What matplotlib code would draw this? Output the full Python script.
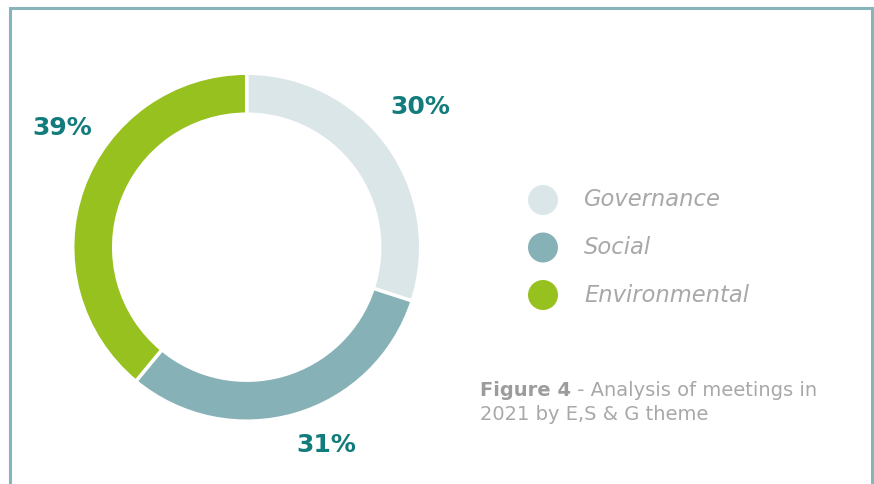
import matplotlib.pyplot as plt
from matplotlib.patches import Rectangle, Circle

themes = ["Governance", "Social", "Environmental"]
shares = [30, 31, 39]
colors = ["#dbe6e9", "#86b1b7", "#96c11f"]
pct_labels = ["30%", "31%", "39%"]

label_color = "#127b7b"
grey = "#a8a8a8"

fig = plt.figure(figsize=(8.74, 4.84), dpi=100)
ax = fig.add_axes([0, 0, 1, 1])

# donut, in pixel units (y up); white edge eats half its width on each side
cx, cy, r = 246.7, 236.8, 174
ax.pie(shares, colors=colors, startangle=90, counterclock=False,
       center=(cx, cy), radius=r, frame=True,
       wedgeprops=dict(width=41, edgecolor="white", linewidth=2.5))

# percentage labels, placed by hand around the ring
label_pos = [(420, 377), (326, 39), (62, 356)]
for txt, (x, y) in zip(pct_labels, label_pos):
    ax.text(x, y, txt, ha="center", va="center", fontsize=18,
            fontweight="bold", color=label_color, family="DejaVu Sans")

# legend
for i, (name, col) in enumerate(zip(themes, colors)):
    y = 284 - i * 47.5
    ax.add_patch(Circle((543, y), 15, color=col, lw=0))
    ax.text(584, y, name, ha="left", va="center", fontsize=16.3,
            style="italic", color=grey, family="DejaVu Sans")

# caption
fig_txt = ax.text(480, 94, "Figure 4", ha="left", va="center", fontsize=14,
                  fontweight="bold", color="#9c9c9c", family="DejaVu Sans")
ax.annotate(" - Analysis of meetings in", xy=(1, 0.5), xycoords=fig_txt,
            ha="left", va="center", fontsize=14, color=grey,
            family="DejaVu Sans")
ax.text(480, 70, "2021 by E,S & G theme", ha="left", va="center",
        fontsize=14, color=grey, family="DejaVu Sans")

# frame around the figure
ax.add_patch(Rectangle((10, -20), 861.5, 496, fill=False,
                       edgecolor="#88b5b9", lw=2.2))

ax.set_xlim(0, 874)
ax.set_ylim(0, 484)
ax.set_aspect("equal")
ax.axis("off")

fig.savefig("out.png", dpi=100)
